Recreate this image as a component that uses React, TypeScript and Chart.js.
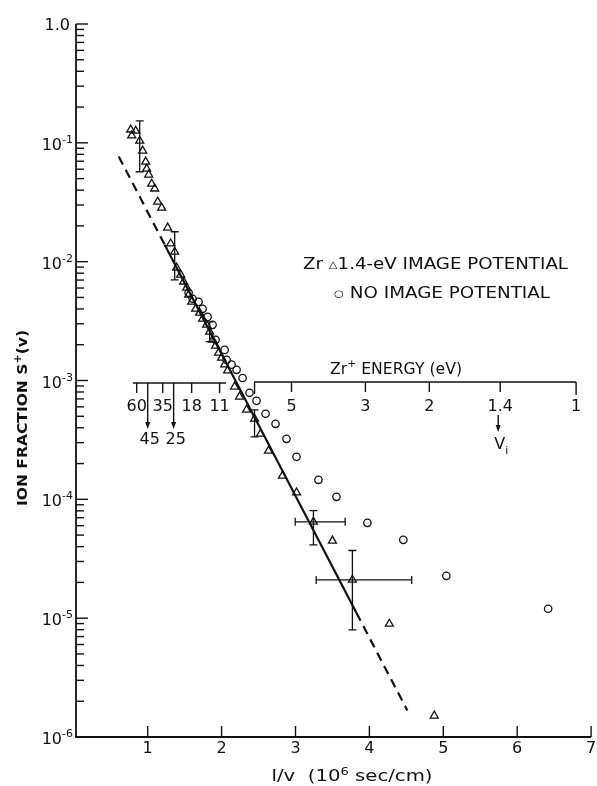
import React, { useEffect, useRef } from 'react';
import { Chart, registerables } from 'chart.js';
Chart.register(...registerables);

// ---------- data ----------
const triX = [0.770, 0.838, 0.784, 0.892, 0.932, 0.973, 0.986, 1.014, 1.054, 1.095, 1.135, 1.189, 1.270, 1.311, 1.365, 1.392, 1.446, 1.486, 1.527, 1.554, 1.595, 1.649, 1.703, 1.743, 1.797, 1.838, 1.878, 1.919, 1.959, 2.000, 2.041, 2.081, 2.176, 2.243, 2.338, 2.446, 2.527, 2.635, 2.824, 3.014, 3.243, 3.500, 3.770, 4.270, 4.878];
const triY = [0.129, 0.126, 0.115, 0.104, 0.0858, 0.0693, 0.0605, 0.0539, 0.0452, 0.0411, 0.0319, 0.0284, 0.0193, 0.0142, 0.0121, 0.00889, 0.00776, 0.00678, 0.00603, 0.00526, 0.00459, 0.00401, 0.00371, 0.00330, 0.00294, 0.00257, 0.00220, 0.00196, 0.00171, 0.00155, 0.00136, 0.00121, 0.000886, 0.000730, 0.000567, 0.000476, 0.000356, 0.000256, 0.000158, 0.000114, 6.47e-5, 4.48e-5, 2.10e-5, 8.95e-6, 1.51e-6];

const circX = [1.554, 1.608, 1.689, 1.743, 1.811, 1.878, 1.919, 2.041, 2.068, 2.135, 2.203, 2.284, 2.378, 2.473, 2.595, 2.730, 2.878, 3.014, 3.311, 3.554, 3.973, 4.459, 5.041, 6.419];
const circY = [0.00547, 0.00487, 0.00459, 0.00401, 0.00343, 0.00294, 0.00220, 0.00181, 0.00149, 0.00136, 0.00123, 0.00105, 0.000789, 0.000675, 0.000525, 0.000432, 0.000323, 0.000228, 0.000146, 0.000105, 6.34e-5, 4.56e-5, 2.27e-5, 1.20e-5];

const fitSolidX = [1.230, 3.824];
const fitSolidY = [0.0139, 1.11e-5];
const fitDashAX = [0.608, 1.230];
const fitDashAY = [0.0768, 0.0139];
const fitDashBX = [3.824, 4.514];
const fitDashBY = [1.11e-5, 1.67e-6];

const errX = [0.892, 1.365, 1.838, 2.446, 3.243, 3.770];
const errYLo = [0.0571, 0.00704, 0.00212, 0.000336, 4.14e-5, 7.97e-6];
const errYHi = [0.153, 0.01786, 0.00312, 0.000567, 8.05e-5, 3.71e-5];
const errYMid = [0.104, 0.0121, 0.00257, 0.000476, 6.47e-5, 2.10e-5];
const errXLo = [null, null, null, null, 2.996, 3.280];
const errXHi = [null, null, null, null, 3.672, 4.572];

const xTickVals = [1, 2, 3, 4, 5, 6, 7];
const yDecades = [0, -1, -2, -3, -4, -5, -6];

const energyLowLabels = ['60', '35', '18', '11'];
const energyLowX = [0.851, 1.203, 1.595, 1.973];
const energyArrowLabels = ['45', '25'];
const energyArrowX = [1.0, 1.351];
const energyHighLabels = ['5', '3', '2', '1.4', '1'];
const energyHighX = [2.946, 3.946, 4.811, 5.770, 6.797];
const energyBracketX = 2.446;
const energyLowStartX = 0.80;
const energyLowEndX = 2.06;

const FONT = "'DejaVu Sans', 'Liberation Sans', sans-serif";
const INK = '#111';

type Part = [string, number, number, boolean?];

function drawParts(ctx: CanvasRenderingContext2D, parts: Part[], x: number, y: number, align: 'left' | 'center' | 'right', width?: number) {
  ctx.save();
  ctx.textBaseline = 'alphabetic';
  ctx.textAlign = 'left';
  let total = 0;
  const ws = parts.map((p) => {
    ctx.font = `${p[3] ? 'bold ' : ''}${p[1]}px ${FONT}`;
    const w = ctx.measureText(p[0]).width;
    total += w;
    return w;
  });
  const sx = width ? width / total : 1;
  const tw = total * sx;
  const start = align === 'left' ? x : align === 'center' ? x - tw / 2 : x - tw;
  ctx.translate(start, y);
  ctx.scale(sx, 1);
  let cx = 0;
  parts.forEach((p, i) => {
    ctx.font = `${p[3] ? 'bold ' : ''}${p[1]}px ${FONT}`;
    ctx.fillText(p[0], cx, p[2]);
    cx += ws[i];
  });
  ctx.restore();
}

function arrowDown(ctx: CanvasRenderingContext2D, x: number, y0: number, y1: number) {
  ctx.beginPath();
  ctx.moveTo(x, y0);
  ctx.lineTo(x, y1 - 5);
  ctx.stroke();
  ctx.beginPath();
  ctx.moveTo(x - 2.5, y1 - 7);
  ctx.lineTo(x + 2.5, y1 - 7);
  ctx.lineTo(x, y1);
  ctx.closePath();
  ctx.fill();
}

const decorPlugin = {
  id: 'decor',
  afterDraw(chart: any) {
    const ctx: CanvasRenderingContext2D = chart.ctx;
    const xs = chart.scales.x;
    const ys = chart.scales.y;
    const ca = chart.chartArea;
    ctx.save();
    ctx.strokeStyle = INK;
    ctx.fillStyle = INK;
    ctx.lineCap = 'butt';

    // axes
    ctx.lineWidth = 1.8;
    ctx.beginPath();
    ctx.moveTo(ca.left, ca.top);
    ctx.lineTo(ca.left, ca.bottom);
    ctx.lineTo(ca.right, ca.bottom);
    ctx.stroke();

    // y ticks
    ctx.lineWidth = 1.4;
    yDecades.forEach((d) => {
      const yp = ys.getPixelForValue(Math.pow(10, d));
      ctx.beginPath();
      ctx.moveTo(ca.left, yp);
      ctx.lineTo(ca.left + 12, yp);
      ctx.stroke();
      if (d > -6) {
        for (let m = 2; m <= 9; m++) {
          const v = m * Math.pow(10, d - 1);
          const ym = ys.getPixelForValue(v);
          ctx.beginPath();
          ctx.moveTo(ca.left, ym);
          ctx.lineTo(ca.left + 8, ym);
          ctx.stroke();
        }
      }
      if (d === 0) {
        drawParts(ctx, [['1.0', 16, 0]], 70, yp + 6, 'right');
      } else {
        drawParts(ctx, [['10', 16, 0], [`-${-d}`, 11, -7]], 73, yp + 7, 'right');
      }
    });

    // x ticks
    xTickVals.forEach((v) => {
      const xp = xs.getPixelForValue(v);
      ctx.beginPath();
      ctx.moveTo(xp, ca.bottom);
      ctx.lineTo(xp, ca.bottom - 11);
      ctx.stroke();
      drawParts(ctx, [[String(v), 16, 0]], xp, ca.bottom + 16, 'center');
    });

    // axis titles
    drawParts(ctx, [['l/v  (10', 15, 0], ['6', 10, -6], [' sec/cm)', 15, 0]], 352, 781, 'center', 161);
    ctx.save();
    ctx.translate(22, 418);
    ctx.rotate(-Math.PI / 2);
    drawParts(ctx, [['ION FRACTION S', 14, 0, true], ['+', 10, -6, true], ['(v)', 14, 0, true]], 0, 5, 'center', 176);
    ctx.restore();

    // legend text
    drawParts(ctx, [['Zr ', 16, 0], ['\u25B3', 10, -1], ['1.4-eV IMAGE POTENTIAL', 16, 0]], 303, 269, 'left', 265);
    drawParts(ctx, [['\u25CB', 10, -1], [' NO IMAGE POTENTIAL', 16, 0]], 334, 298, 'left', 216);

    // energy scale
    ctx.lineWidth = 1.4;
    const yLow = 383;
    const yHigh = 382;
    ctx.beginPath();
    ctx.moveTo(xs.getPixelForValue(energyLowStartX), yLow);
    ctx.lineTo(xs.getPixelForValue(energyLowEndX), yLow);
    ctx.stroke();
    energyLowX.forEach((v, i) => {
      const xp = xs.getPixelForValue(v);
      ctx.beginPath();
      ctx.moveTo(xp, yLow);
      ctx.lineTo(xp, yLow + 10);
      ctx.stroke();
      drawParts(ctx, [[energyLowLabels[i], 16, 0]], xp, 411, 'center');
    });
    energyArrowX.forEach((v, i) => {
      const xp = xs.getPixelForValue(v);
      arrowDown(ctx, xp, yLow, 429);
      drawParts(ctx, [[energyArrowLabels[i], 16, 0]], xp + 2, 444, 'center');
    });
    const xb = xs.getPixelForValue(energyBracketX);
    const xe = xs.getPixelForValue(energyHighX[energyHighX.length - 1]);
    ctx.beginPath();
    ctx.moveTo(xb, yHigh + 12);
    ctx.lineTo(xb, yHigh);
    ctx.lineTo(xe, yHigh);
    ctx.stroke();
    energyHighX.forEach((v, i) => {
      const xp = xs.getPixelForValue(v);
      ctx.beginPath();
      ctx.moveTo(xp, yHigh);
      ctx.lineTo(xp, yHigh + (i === energyHighX.length - 1 ? 13 : 10));
      ctx.stroke();
      drawParts(ctx, [[energyHighLabels[i], 16, 0]], xp, 411, 'center');
    });
    const x14 = xs.getPixelForValue(energyHighX[3]);
    arrowDown(ctx, x14 - 2, 415, 432);
    drawParts(ctx, [['V', 16, 0], ['i', 11, 5]], x14 + 1, 449, 'center');
    drawParts(ctx, [['Zr', 16, 0], ['+', 11, -7], [' ENERGY (eV)', 16, 0]], 330, 374, 'left', 132);

    // error bars
    ctx.lineWidth = 1.3;
    errX.forEach((xv, i) => {
      const xp = xs.getPixelForValue(xv);
      const yLo = ys.getPixelForValue(errYLo[i]);
      const yHi = ys.getPixelForValue(errYHi[i]);
      ctx.beginPath();
      ctx.moveTo(xp, yLo);
      ctx.lineTo(xp, yHi);
      ctx.moveTo(xp - 4, yLo);
      ctx.lineTo(xp + 4, yLo);
      ctx.moveTo(xp - 4, yHi);
      ctx.lineTo(xp + 4, yHi);
      ctx.stroke();
      const xl = errXLo[i];
      const xh = errXHi[i];
      if (xl !== null && xh !== null) {
        const ym = ys.getPixelForValue(errYMid[i]);
        const pl = xs.getPixelForValue(xl);
        const ph = xs.getPixelForValue(xh);
        ctx.beginPath();
        ctx.moveTo(pl, ym);
        ctx.lineTo(ph, ym);
        ctx.moveTo(pl, ym - 4);
        ctx.lineTo(pl, ym + 4);
        ctx.moveTo(ph, ym - 4);
        ctx.lineTo(ph, ym + 4);
        ctx.stroke();
      }
    });
    ctx.restore();
  },
};

const pts = (xa: number[], ya: number[]) => xa.map((x, i) => ({ x, y: ya[i] }));

export default function App() {
  const ref = useRef<HTMLCanvasElement | null>(null);
  useEffect(() => {
    if (!ref.current) return;
    const chart = new Chart(ref.current, {
      type: 'scatter',
      data: {
        datasets: [
          {
            data: pts(fitSolidX, fitSolidY),
            showLine: true,
            borderColor: INK,
            borderWidth: 2.2,
            pointRadius: 0,
          },
          {
            data: pts(fitDashAX, fitDashAY),
            showLine: true,
            borderColor: INK,
            borderWidth: 2.2,
            borderDash: [9, 6],
            pointRadius: 0,
          },
          {
            data: pts(fitDashBX, fitDashBY),
            showLine: true,
            borderColor: INK,
            borderWidth: 2.2,
            borderDash: [9, 6],
            pointRadius: 0,
          },
          {
            data: pts(triX, triY),
            pointStyle: 'triangle',
            pointRadius: 4.6,
            pointBackgroundColor: 'rgba(0,0,0,0)',
            pointBorderColor: INK,
            pointBorderWidth: 1.3,
          },
          {
            data: pts(circX, circY),
            pointStyle: 'circle',
            pointRadius: 3.7,
            pointBackgroundColor: 'rgba(0,0,0,0)',
            pointBorderColor: INK,
            pointBorderWidth: 1.3,
          },
        ],
      },
      options: {
        responsive: false,
        animation: false,
        events: [],
        layout: { padding: { left: 76, right: 5, top: 24, bottom: 49 } },
        plugins: { legend: { display: false }, tooltip: { enabled: false } },
        scales: {
          x: { type: 'linear', min: 0.03, max: 7, display: false },
          y: { type: 'logarithmic', min: 1e-6, max: 1, display: false },
        },
      },
      plugins: [decorPlugin],
    } as any);
    return () => chart.destroy();
  }, []);
  return (
    <div style={{ position: 'fixed', left: 0, top: 0, width: 597, height: 786, background: '#fff' }}>
      <canvas ref={ref} width={597} height={786} style={{ display: 'block', width: 597, height: 786 }} />
    </div>
  );
}
